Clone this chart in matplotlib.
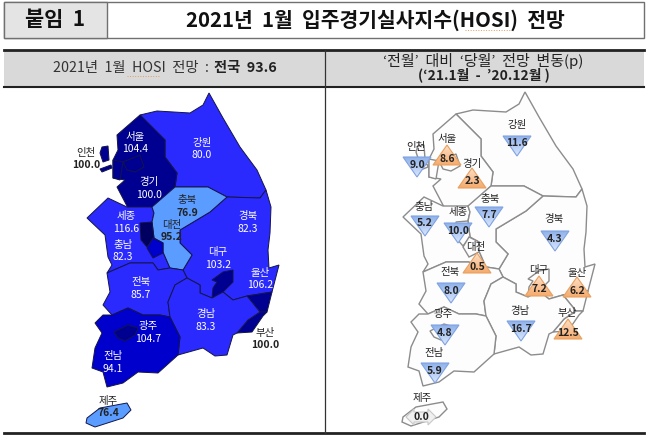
import numpy as np
import matplotlib
matplotlib.use('Agg')
import matplotlib.pyplot as plt
from matplotlib.patches import Polygon, Rectangle

plt.rcParams['font.family'] = ['Noto Sans CJK KR', 'DejaVu Sans']

# values
regions = ['서울', '인천', '강원', '경기', '충북', '세종', '대전', '경북', '충남',
           '대구', '울산', '전북', '경남', '광주', '전남', '부산', '제주']
hosi = [104.4, 100.0, 80.0, 100.0, 76.9, 116.6, 95.2, 82.3, 82.3,
        103.2, 106.2, 85.7, 83.3, 104.7, 94.1, 100.0, 76.4]
change = [8.6, -9.0, -11.6, 2.3, -7.7, -10.0, 0.5, -4.3, -5.2,
          7.2, 6.2, -8.0, -16.7, -4.8, -5.9, 12.5, 0.0]

# label places on the left map: name centre, the value sits 12.5 px under it
leftPos = {'서울': (135, 137), '인천': (86, 153), '강원': (202, 143), '경기': (149, 182),
           '충북': (187, 200), '세종': (126, 216), '대전': (172, 225), '경북': (248, 216),
           '충남': (123, 245), '대구': (218, 252), '울산': (260, 273), '전북': (141, 282),
           '경남': (206, 314), '광주': (148, 326), '전남': (113, 356), '부산': (265, 333),
           '제주': (108, 401)}
darkText = ['인천', '충북', '대전', '부산', '제주']

# right map: name centre, then triangle centre x and top y
rightName = {'서울': (447, 139), '인천': (416, 147), '강원': (517, 125), '경기': (472, 164),
             '충북': (490, 199), '세종': (458, 212), '대전': (476, 247), '경북': (554, 219),
             '충남': (424, 207), '대구': (539, 270), '울산': (577, 273), '전북': (450, 272),
             '경남': (520, 311), '광주': (443, 314), '전남': (434, 353), '부산': (567, 313),
             '제주': (422, 398)}
rightTri = {'서울': (447, 145), '인천': (417, 157), '강원': (517, 136), '경기': (472, 168),
            '충북': (489, 207), '세종': (458, 223), '대전': (477, 253), '경북': (555, 231),
            '충남': (425, 216), '대구': (539, 276), '울산': (577, 277), '전북': (451, 283),
            '경남': (521, 321), '광주': (445, 325), '전남': (435, 363), '부산': (568, 319),
            '제주': (421, 407)}

# rough outlines of the provinces in picture pixels
shapes = {
    '강원': [(140, 115), (157, 111), (190, 113), (203, 105), (209, 93), (223, 118), (240, 147),
           (257, 170), (266, 190), (260, 198), (227, 197), (208, 187), (175, 187), (177, 173),
           (165, 157), (165, 140)],
    '경기': [(140, 115), (165, 140), (165, 157), (177, 173), (175, 187), (152, 208), (128, 208),
           (117, 187), (125, 180), (113, 178), (113, 160), (118, 150), (117, 135)],
    '서울': [(123, 162), (140, 155), (144, 167), (135, 172), (127, 170)],
    '인천': [(113, 160), (123, 162), (120, 180), (113, 178)],
    '인천섬1': [(102, 147), (108, 146), (109, 160), (103, 162), (100, 153)],
    '인천섬2': [(100, 169), (111, 165), (112, 168), (102, 172)],
    '충남': [(87, 218), (108, 198), (127, 207), (152, 207), (154, 213), (152, 222), (154, 238),
           (163, 243), (163, 252), (170, 268), (158, 270), (153, 263), (130, 263), (107, 273),
           (112, 265), (108, 257), (105, 235)],
    '충북': [(175, 187), (208, 187), (227, 197), (210, 212), (180, 230), (180, 243), (192, 255),
           (183, 270), (170, 268), (163, 252), (163, 243), (154, 238), (152, 222), (154, 213),
           (152, 207)],
    '세종': [(140, 223), (152, 222), (154, 238), (147, 247), (141, 240)],
    '대전': [(147, 248), (153, 238), (163, 243), (163, 253), (153, 258)],
    '경북': [(227, 197), (260, 198), (266, 190), (271, 207), (270, 233), (268, 250), (269, 268),
           (279, 265), (272, 292), (247, 296), (233, 300), (223, 292), (212, 298), (200, 293),
           (200, 285), (187, 278), (183, 270), (192, 255), (180, 243), (180, 230), (210, 212)],
    '대구': [(223, 272), (233, 270), (233, 282), (223, 292), (212, 298), (213, 288), (217, 282),
           (212, 280)],
    '울산': [(247, 296), (272, 292), (267, 312), (260, 312)],
    '부산': [(260, 312), (267, 312), (263, 316), (252, 332), (237, 333), (248, 320)],
    '전북': [(107, 273), (130, 263), (153, 263), (158, 270), (170, 268), (183, 270), (187, 278),
           (175, 285), (168, 302), (170, 317), (160, 315), (143, 315), (128, 308), (112, 315),
           (103, 305), (110, 292)],
    '경남': [(187, 278), (175, 285), (168, 302), (170, 317), (180, 337), (178, 355), (203, 348),
           (215, 356), (227, 355), (233, 335), (237, 333), (248, 320), (260, 312), (247, 296),
           (233, 300), (223, 292), (212, 298), (200, 293), (200, 285)],
    '전남': [(112, 315), (128, 308), (143, 315), (160, 315), (170, 317), (180, 337), (178, 355),
           (158, 373), (138, 372), (123, 383), (107, 387), (103, 372), (92, 368), (95, 348),
           (102, 333), (95, 323), (103, 315)],
    '광주': [(114, 332), (128, 325), (138, 328), (135, 335), (125, 341), (118, 338)],
    '제주': [(87, 418), (100, 408), (127, 403), (131, 410), (123, 418), (95, 427), (86, 423)],
}
# draw order, small ones last so they sit on top
drawOrder = ['강원', '경기', '인천', '서울', '인천섬1', '인천섬2', '충남', '경북', '충북', '세종', '대전',
             '대구', '울산', '부산', '전북', '경남', '전남', '광주', '제주']
colors = {'강원': '#2a2aff', '경기': '#000090', '서울': '#000090', '인천': '#000090',
          '인천섬1': '#000090', '인천섬2': '#000090', '충남': '#2a2aff', '충북': '#5a9cff',
          '세종': '#000060', '대전': '#0000cc', '경북': '#2a2aff', '대구': '#000090',
          '울산': '#000090', '부산': '#000090', '전북': '#2a2aff', '경남': '#2a2aff',
          '전남': '#0000cc', '광주': '#000090', '제주': '#5a9cff'}

def gradTriangle(ax, pts, top, bottom, edge):
    # triangle with a top to bottom colour fade
    ys = [p[1] for p in pts]
    xs = [p[0] for p in pts]
    grad = np.linspace(0, 1, 32)[:, None, None] * (np.array(bottom) - np.array(top)) + np.array(top)
    im = ax.imshow(grad, extent=(min(xs), max(xs), max(ys), min(ys)), aspect='auto', zorder=4)
    poly = Polygon(pts, closed=True, fc='none', ec=edge, lw=0.8, zorder=5)
    ax.add_patch(poly)
    im.set_clip_path(poly)

def rgb(hexStr):
    return matplotlib.colors.to_rgb(hexStr)

fig = plt.figure(figsize=(6.53, 4.42), dpi=100)
ax = fig.add_axes([0, 0, 1, 1])

# title box
ax.add_patch(Rectangle((3.5, 2), 640.5, 36, fc='white', ec='#707070', lw=1.0))
ax.add_patch(Rectangle((3.5, 2), 103.5, 36, fc='#e4e4e4', ec='#707070', lw=1.0))
ax.text(55, 20, '붙임  1', fontsize=15, fontweight='bold', ha='center', va='center', color='#111111')
ax.text(375, 20, '2021년  1월  입주경기실사지수(HOSI)  전망', fontsize=14.7, fontweight='bold',
        ha='center', va='center', color='#111111')
ax.plot([465, 510], [30, 30], color='#e89a5a', lw=0.7, ls=':')

# column header band
ax.add_patch(Rectangle((3.5, 50), 640.5, 37, fc='#d9d9d9', ec='none'))
ax.plot([3.5, 644], [50, 50], color='#222222', lw=2)
ax.plot([3.5, 644], [87, 87], color='#222222', lw=1.5)
ax.plot([3.5, 644], [433, 433], color='#222222', lw=2)
ax.plot([325, 325], [50, 433], color='#333333', lw=0.9)
ax.text(209, 68, '2021년  1월  HOSI  전망  :', fontsize=10.3, ha='right', va='center', color='#333333')
ax.text(214, 68, '전국  93.6', fontsize=10.3, fontweight='bold', ha='left', va='center', color='#222222')
ax.plot([127, 160], [76, 76], color='#e89a5a', lw=0.7, ls=':')
ax.text(483, 61, '‘전월’  대비  ‘당월’  전망  변동(p)', fontsize=10.8, ha='center', va='center', color='#222222')
ax.text(484, 75, '(‘21.1월  -  ’20.12월 )', fontsize=10, fontweight='bold', ha='center', va='center',
        color='#222222')

# left map
for name in drawOrder:
    ax.add_patch(Polygon(shapes[name], closed=True, fc=colors[name], ec='#14144a', lw=0.7, zorder=2))
for name, val in zip(regions, hosi):
    x, y = leftPos[name]
    col = '#222222' if name in darkText else 'white'
    ax.text(x, y, name, fontsize=7.5, ha='center', va='center', color=col, zorder=6)
    ax.text(x, y + 12.5, f'{val:.1f}', fontsize=7.5, fontweight='bold' if col != 'white' else 'normal',
            ha='center', va='center', color=col, zorder=6)

# right map, same outlines moved over
for name in drawOrder:
    pts = np.array(shapes[name], dtype=float) + np.array([316, -1])
    ax.add_patch(Polygon(pts, closed=True, fc='#fdfdfd', ec='#8c8c8c', lw=1.0, zorder=2))
for name, val in zip(regions, change):
    x, y = rightTri[name]
    if val > 0:
        pts = [(x, y), (x - 14, y + 20), (x + 14, y + 20)]
        gradTriangle(ax, pts, rgb('#fde0c8'), rgb('#f5aa6c'), '#e8a060')
        ty = y + 13.5
    elif val < 0:
        pts = [(x - 14, y), (x + 14, y), (x, y + 20)]
        gradTriangle(ax, pts, rgb('#8fb2ec'), rgb('#dbe7fc'), '#7fa2e2')
        ty = y + 7.5
    else:
        # flat value gets a grey double arrow
        pts = [(x - 15, y + 10), (x - 7, y + 2), (x - 7, y + 5), (x + 7, y + 5), (x + 7, y + 2),
               (x + 15, y + 10), (x + 7, y + 18), (x + 7, y + 15), (x - 7, y + 15), (x - 7, y + 18)]
        ax.add_patch(Polygon(pts, closed=True, fc='#f0f0f0', ec='#c8c8c8', lw=0.8, zorder=4))
        ty = y + 10
    ax.text(x, ty, f'{abs(val):.1f}', fontsize=7.5, fontweight='bold', ha='center', va='center',
            color='#222222', zorder=6)
    nx, ny = rightName[name]
    ax.text(nx, ny, name, fontsize=7.5, ha='center', va='center', color='#222222', zorder=6)

ax.set_xlim(0, 653)
ax.set_ylim(442, 0)
ax.axis('off')
fig.savefig('out.png', dpi=100)
